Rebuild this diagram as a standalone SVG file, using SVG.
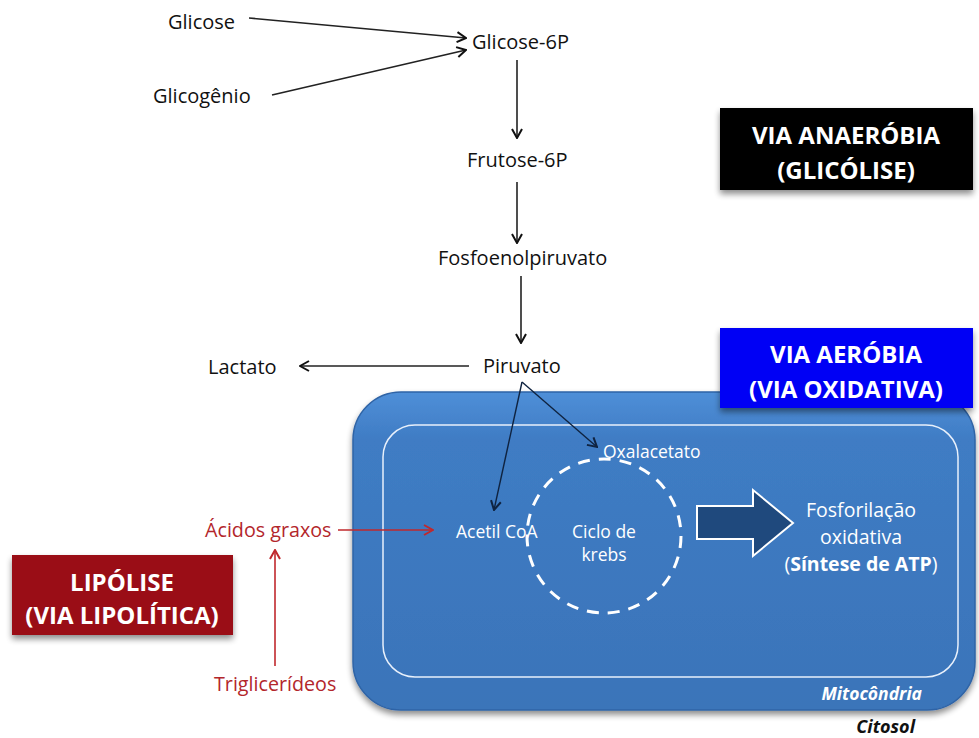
<svg xmlns="http://www.w3.org/2000/svg" width="979" height="738" viewBox="0 0 979 738">
<defs>
<style>
.t{font-family:"Open Sans",Lato,"Liberation Sans",sans-serif;font-size:20px;fill:#111;}
.w{font-family:"Open Sans",Lato,"Liberation Sans",sans-serif;font-size:17.5px;fill:#fff;}
.f{font-family:"Open Sans",Lato,"Liberation Sans",sans-serif;font-size:19.5px;fill:#fff;}
.mi{font-family:"Open Sans",Lato,"Liberation Sans",sans-serif;font-size:17.5px;font-style:italic;font-weight:bold;}
.r{font-family:"Open Sans",Lato,"Liberation Sans",sans-serif;font-size:19.7px;fill:#b3262b;}
.h{font-family:"Open Sans",Lato,"Liberation Sans",sans-serif;font-size:24px;font-weight:bold;fill:#fff;}
.k{stroke:#222;stroke-width:1.6;fill:none;marker-end:url(#ak);}
.n{stroke:#0f2340;stroke-width:1.4;fill:none;marker-end:url(#an);}
.rd{stroke:#c0282d;stroke-width:1.6;fill:none;marker-end:url(#ar);}
</style>
<marker id="ak" viewBox="0 0 12 12" refX="11" refY="6" markerWidth="12" markerHeight="12" markerUnits="userSpaceOnUse" orient="auto"><path d="M2,1 L11,6 L2,11" fill="none" stroke="#111" stroke-width="2"/></marker>
<marker id="an" viewBox="0 0 12 12" refX="11" refY="6" markerWidth="12" markerHeight="12" markerUnits="userSpaceOnUse" orient="auto"><path d="M2,1 L11,6 L2,11" fill="none" stroke="#0f2340" stroke-width="2"/></marker>
<marker id="ar" viewBox="0 0 12 12" refX="11" refY="6" markerWidth="12" markerHeight="12" markerUnits="userSpaceOnUse" orient="auto"><path d="M2,1 L11,6 L2,11" fill="none" stroke="#c0282d" stroke-width="2"/></marker>
<linearGradient id="mg" x1="0" y1="0" x2="0" y2="1"><stop offset="0" stop-color="#4f8fd8"/><stop offset="0.15" stop-color="#3f7cc4"/><stop offset="1" stop-color="#3a74b9"/></linearGradient>
<filter id="sh" x="-10%" y="-10%" width="120%" height="130%"><feGaussianBlur in="SourceAlpha" stdDeviation="3"/><feOffset dx="0" dy="4"/><feComponentTransfer><feFuncA type="linear" slope="0.45"/></feComponentTransfer><feMerge><feMergeNode/><feMergeNode in="SourceGraphic"/></feMerge></filter>
</defs>
<rect width="979" height="738" fill="#fff"/>

<g id="mitocondria">
<rect x="353" y="392" width="622" height="318" rx="48" fill="url(#mg)" stroke="#2f64a6" stroke-width="1.5" filter="url(#sh)"/>
<rect x="383" y="425" width="575" height="252" rx="32" fill="none" stroke="#e8f0fb" stroke-width="1.5"/>
<text x="922" y="700" class="mi" fill="#fff" text-anchor="end">Mitocôndria</text>
</g>
<g id="citosol"><text x="915" y="733" class="mi" fill="#111" style="font-size:18px" text-anchor="end">Citosol</text></g>

<g id="via-anaerobia">
<rect x="720" y="108" width="253" height="82" fill="#000" filter="url(#sh)"/>
<text x="846" y="144" class="h" text-anchor="middle">VIA ANAERÓBIA</text>
<text x="846" y="179" class="h" text-anchor="middle">(GLICÓLISE)</text>
</g>
<g id="via-aerobia">
<rect x="720" y="328" width="253" height="80" fill="#0000f5" filter="url(#sh)"/>
<text x="846" y="363" class="h" text-anchor="middle">VIA AERÓBIA</text>
<text x="846" y="398" class="h" text-anchor="middle">(VIA OXIDATIVA)</text>
</g>
<g id="lipolise">
<rect x="12" y="555" width="221" height="80" fill="#9a0f12" filter="url(#sh)"/>
<text x="122" y="591" class="h" text-anchor="middle">LIPÓLISE</text>
<text x="122" y="624" class="h" text-anchor="middle">(VIA LIPOLÍTICA)</text>
</g>

<g id="glicose"><text x="168" y="29" class="t">Glicose</text></g>
<g id="glicogenio"><text x="153" y="103" class="t">Glicogênio</text></g>
<g id="glicose6p"><text x="472" y="49" class="t">Glicose-6P</text></g>
<g id="frutose6p"><text x="467" y="167" class="t">Frutose-6P</text></g>
<g id="fosfoenolpiruvato"><text x="438" y="265" class="t">Fosfoenolpiruvato</text></g>
<g id="piruvato"><text x="483" y="373" class="t">Piruvato</text></g>
<g id="lactato"><text x="208" y="374" class="t">Lactato</text></g>
<g id="oxalacetato"><text x="603" y="458" class="w">Oxalacetato</text></g>
<g id="acetilcoa"><text x="456" y="538" class="w">Acetil CoA</text></g>
<g id="krebs">
<circle cx="604" cy="536" r="77" fill="none" stroke="#fff" stroke-width="3" stroke-dasharray="12 9"/>
<text x="604" y="538" class="w" text-anchor="middle">Ciclo de</text>
<text x="604" y="561" class="w" text-anchor="middle">krebs</text>
</g>
<g id="fosforilacao">
<path d="M697,506 L753,506 L753,490 L793,523 L753,556 L753,539 L697,539 Z" fill="#1f497d" stroke="#fff" stroke-width="2"/>
<text x="861" y="517" class="f" text-anchor="middle">Fosforilação</text>
<text x="861" y="544" class="f" text-anchor="middle">oxidativa</text>
<text x="861" y="571" class="f" text-anchor="middle">(<tspan font-weight="bold">Síntese de ATP</tspan>)</text>
</g>
<g id="acidos"><text x="205" y="537" class="r">Ácidos graxos</text></g>
<g id="triglicerideos"><text x="214" y="691" class="r">Triglicerídeos</text></g>

<g id="connectors">
<line x1="249" y1="18" x2="466" y2="38" class="k"/>
<line x1="272" y1="95" x2="466" y2="50" class="k"/>
<line x1="517" y1="60" x2="517" y2="138" class="k"/>
<line x1="517" y1="182" x2="517" y2="243" class="k"/>
<line x1="521" y1="276" x2="521" y2="343" class="k"/>
<line x1="469" y1="366" x2="300" y2="366" class="k"/>
<line x1="522" y1="382" x2="597" y2="447" class="n"/>
<line x1="522" y1="382" x2="494" y2="510" class="n"/>
<line x1="338" y1="530" x2="433" y2="530" class="rd"/>
<line x1="275" y1="666" x2="275" y2="550" class="rd"/>
</g>
</svg>
